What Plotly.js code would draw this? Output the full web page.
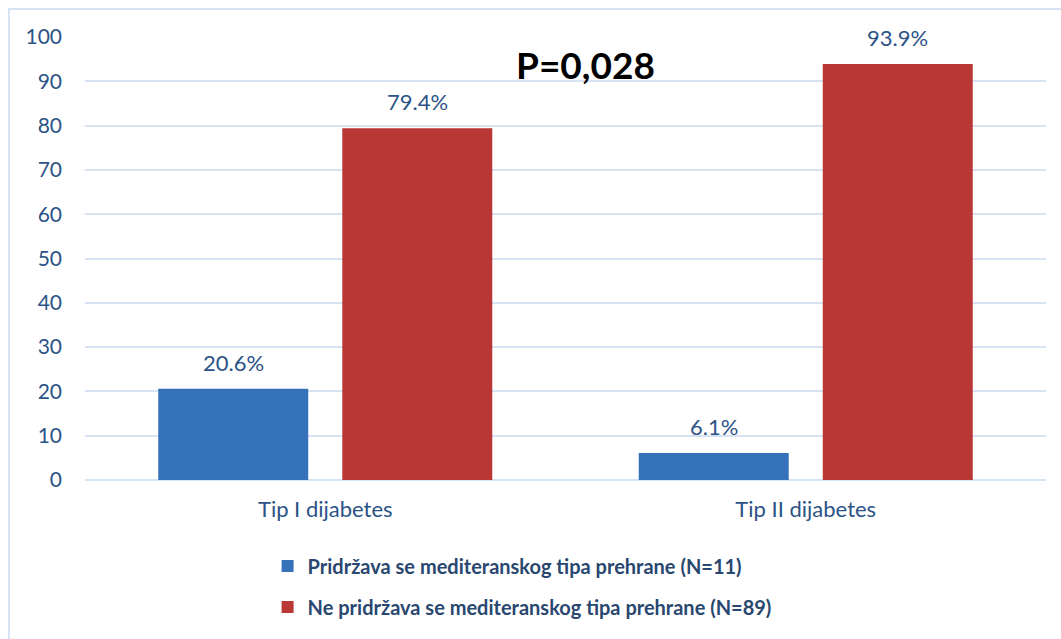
<!DOCTYPE html>
<html>
<head>
<meta charset="utf-8">
<script src="https://cdn.plot.ly/plotly-3.0.1.min.js"></script>
<style>
html,body{margin:0;padding:0;background:#fff;overflow:hidden;}
#frame{position:absolute;left:8px;top:8px;width:1100px;height:700px;border-top:2px solid #d6e3f3;border-left:2px solid #d6e3f3;}
#chart{position:absolute;left:0;top:0;width:1061px;height:639px;}
</style>
</head>
<body>
<div id="frame"></div>
<div id="chart"></div>
<script>
const categories = ["Tip I dijabetes", "Tip II dijabetes"];
const seriesNames = ["Pridržava se mediteranskog tipa prehrane (N=11)", "Ne pridržava se mediteranskog tipa prehrane (N=89)"];
const adherent = [20.6, 6.1];
const nonAdherent = [79.4, 93.9];
const yTicks = [0, 10, 20, 30, 40, 50, 60, 70, 80, 90, 100];
const pValueText = "P=0,028";

const labelColor = "#2c5386";
const fontFam = "Lato, 'Open Sans', sans-serif";

const traces = [
  {type: "bar", name: seriesNames[0], x: categories, y: adherent,
   marker: {color: "#3572b9"}, legendgroup: "a", hoverinfo: "y"},
  {type: "bar", name: seriesNames[1], x: categories, y: nonAdherent,
   marker: {color: "#b93735"}, legendgroup: "b", hoverinfo: "y"}
];

const annotations = [];
[adherent, nonAdherent].forEach((vals, si) => {
  vals.forEach((v, ci) => {
    annotations.push({
      x: categories[ci], y: v, xref: "x", yref: "y",
      text: v.toFixed(1) + "%", showarrow: false,
      yanchor: "bottom", yshift: 11, xshift: si === 0 ? -92 : 92,
      font: {family: fontFam, size: 22, color: labelColor}
    });
  });
});
annotations.push({
  xref: "paper", yref: "paper", x: 0.521, y: 0.937,
  xanchor: "center", yanchor: "middle",
  text: "<b>" + pValueText + "</b>", showarrow: false,
  font: {family: fontFam, size: 37, color: "#000"}
});

const layout = {
  width: 1061, height: 639,
  paper_bgcolor: "rgba(0,0,0,0)", plot_bgcolor: "rgba(0,0,0,0)",
  margin: {l: 85, r: 15, t: 37, b: 159},
  barmode: "group", bargap: 0.234, bargroupgap: 0.185,
  showlegend: true,
  legend: {
    orientation: "v", x: 0.19, xanchor: "left", y: -0.15, yanchor: "top",
    font: {family: fontFam, size: 20, color: "#29476f", weight: "bold"},
    tracegroupgap: 12, traceorder: "grouped"
  },
  xaxis: {
    type: "category", showgrid: false, zeroline: false, showline: false,
    ticks: "", ticklabelstandoff: 14,
    tickfont: {family: fontFam, size: 22, color: labelColor}
  },
  yaxis: {
    range: [0, 100], tickvals: yTicks, ticktext: yTicks.map(String),
    showgrid: true, gridcolor: "#d6e3f3", gridwidth: 2,
    zeroline: true, zerolinecolor: "#d6e3f3", zerolinewidth: 2,
    showline: false, ticks: "", ticklabelstandoff: 22,
    tickfont: {family: fontFam, size: 21, color: labelColor}
  },
  annotations: annotations
};

Plotly.newPlot("chart", traces, layout, {displayModeBar: false, staticPlot: true});
</script>
</body>
</html>
